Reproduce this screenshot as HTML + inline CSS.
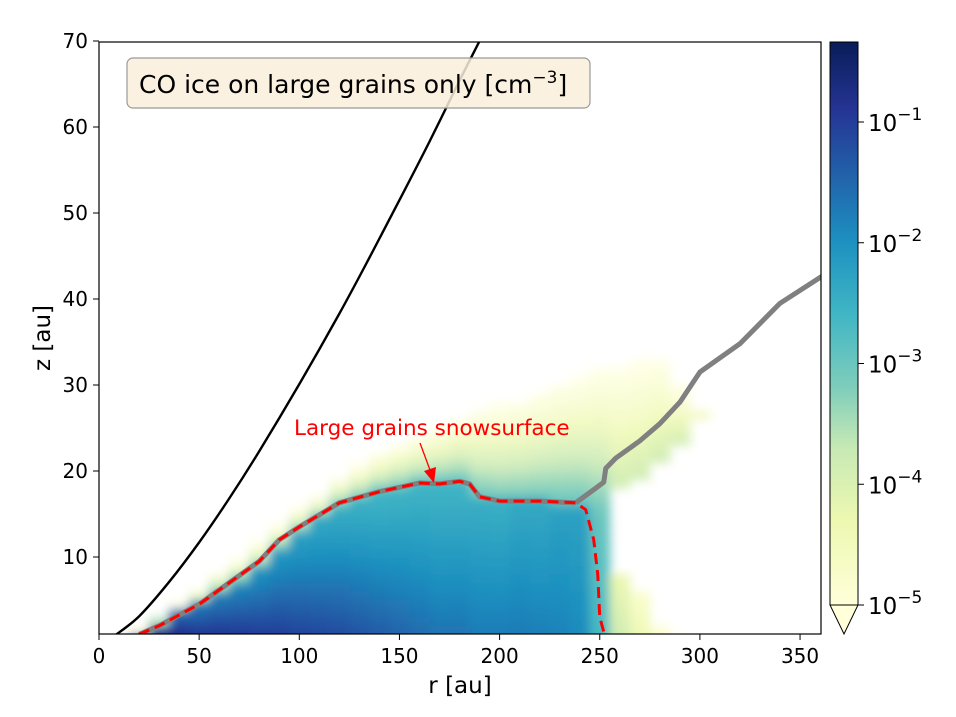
<!DOCTYPE html>
<html><head><meta charset="utf-8"><style>
body{margin:0;background:#fff}
svg text{font-family:"DejaVu Sans","Liberation Sans",sans-serif}
</style></head><body>
<svg id="chart" width="956" height="712" viewBox="0 0 956 712">
<defs>
<clipPath id="plotClip"><rect x="99" y="42" width="722" height="592"/></clipPath>
<filter id="blur" x="-5%" y="-5%" width="110%" height="110%"><feGaussianBlur stdDeviation="5"/></filter>
<linearGradient id="cbGrad" x1="0" y1="1" x2="0" y2="0">
<stop offset="0" stop-color="#ffffd9"/><stop offset="0.15" stop-color="#edf8b1"/><stop offset="0.279" stop-color="#c7e9b4"/>
<stop offset="0.386" stop-color="#7fcdbb"/><stop offset="0.515" stop-color="#41b6c4"/><stop offset="0.644" stop-color="#1d91c0"/>
<stop offset="0.773" stop-color="#225ea8"/><stop offset="0.88" stop-color="#253494"/><stop offset="1" stop-color="#081d58"/>
</linearGradient>
</defs>
<g id="heat" clip-path="url(#plotClip)"><g id="cells" filter="url(#blur)"></g></g>
<g id="lines" clip-path="url(#plotClip)"></g>
<rect x="99" y="42" width="722" height="592" fill="none" stroke="#000" stroke-width="1.2"/>
<g id="axes"></g>
<g>
<rect x="127" y="58" width="463" height="50" rx="6" fill="#faeedb" fill-opacity="0.85" stroke="#999" stroke-width="1.2"/>
<text x="139" y="93" font-size="25" fill="#000">CO ice on large grains only [cm<tspan dy="-10" font-size="17">−3</tspan><tspan dy="10">]</tspan></text>
</g>
<text x="294" y="435" font-size="21.5" fill="#ff0000">Large grains snowsurface</text>
<line x1="420" y1="443" x2="430" y2="470" stroke="#ff0000" stroke-width="1.3"/>
<polygon points="424,471 436,467 434,483" fill="#ff0000"/>
<text x="460" y="693" font-size="23" text-anchor="middle">r [au]</text>
<text transform="translate(50,338) rotate(-90)" font-size="23" text-anchor="middle">z [au]</text>
<g>
<rect x="830" y="42" width="28" height="563" fill="url(#cbGrad)"/>
<polygon points="830,605 858,605 844,634" fill="#ffffd9" stroke="#000" stroke-width="1"/>
<polyline points="830,605 830,42 858,42 858,605" fill="none" stroke="#000" stroke-width="1"/>
</g>
<g id="cbticks"></g>
</svg>
<script>
const NS="http://www.w3.org/2000/svg";
// ---- data ----
const rCols=[10,20,30,40,50,60,70,80,90,100,110,120,130,140,150,160,170,180,190,200,210,220,230,240,250,260,270,280,290,300];
const zSnowCol=[0,1,2.3,3.5,4.6,6,7.3,8.8,11,13,14.5,16,16.8,17.5,18,18.5,18.6,18.7,17,16.5,16.5,16.5,16.4,16.3,15,8,6,2,0,0];
const zFaintBotCol=[0,1,2.3,3.5,4.6,6,7.3,8.8,11,13,14.5,16,16.8,17.5,18,18.5,18.6,18.7,17,16.5,16.5,16.5,16.4,16.3,15,18,19,21,23,26];
const zTopCol=[0,1.3,3,4.5,6,8,9.5,11.5,13.5,15.5,17,19,20.5,22,23,24,25,26,27,27.5,28,29,30,30.5,31.5,32,32.5,33,30,27];
const logMidCol=[-0.4,-0.3,-0.3,-0.4,-0.6,-0.7,-0.8,-0.85,-0.9,-1.0,-1.05,-1.1,-1.2,-1.3,-1.4,-1.5,-1.6,-1.6,-1.7,-1.7,-1.7,-1.75,-1.8,-1.9,-2.6,-3.8,-4.3,-4.7,-5.2,-5.2];
const logSnowCol=[-1.2,-1.3,-1.4,-1.6,-1.8,-1.9,-2.0,-2.1,-2.2,-2.3,-2.4,-2.5,-2.55,-2.6,-2.6,-2.6,-2.6,-2.6,-2.5,-2.5,-2.4,-2.4,-2.3,-2.3,-3.0,-4.3,-4.8,-5.0,-5.2,-5.2];
const snowR=[20,30,50,65,80,90,100,120,140,160,170,180,185,190,200,220,238,243,247,249,250,252,258];
const snowZ=[1,2,4.5,7,9.5,12,13.5,16.3,17.6,18.6,18.5,18.8,18.5,17,16.5,16.5,16.3,15.5,12,8,3,1.3,0.5];
const grayR=[238,248,252,253,258,270,280,290,300,320,340,362];
const grayZ=[16.3,18,18.7,20.3,21.5,23.5,25.5,28,31.5,34.8,39.5,42.8];
const blackR=[7.5,20,35,50,65,80,100,120,135,150,165,180,190];
const blackZ=[0.8,3.1,7.1,11.7,16.8,22.3,30.1,38.3,44.8,51.5,58.3,65.4,70];
const xTicks=[0,50,100,150,200,250,300,350];
const yTicks=[10,20,30,40,50,60,70];
const cbTicks=[-5,-4,-3,-2,-1];
const cmapLog=[-5,-4.3,-3.7,-3.2,-2.6,-2.0,-1.4,-0.9,-0.34];
const cmapCol=["#ffffd9","#edf8b1","#c7e9b4","#7fcdbb","#41b6c4","#1d91c0","#225ea8","#253494","#081d58"];
// ---- scales ----
const X=r=>99+r*2.003;
const Y=z=>643-z*8.6;
const CB=l=>605-(l+5)*120.75;
function hex(c){return [1,3,5].map(i=>parseInt(c.substr(i,2),16));}
function cmap(l){
 if(l<=cmapLog[0])return cmapCol[0];
 for(let i=1;i<cmapLog.length;i++){if(l<=cmapLog[i]){const t=(l-cmapLog[i-1])/(cmapLog[i]-cmapLog[i-1]);const a=hex(cmapCol[i-1]),b=hex(cmapCol[i]);return "rgb("+a.map((v,k)=>Math.round(v+(b[k]-v)*t)).join(",")+")";}}
 return cmapCol[cmapCol.length-1];
}
// ---- heatmap cells ----
const cells=document.getElementById('cells');
const dz=1;
rCols.forEach((r,i)=>{
 const zs=zSnowCol[i],zf=zFaintBotCol[i],zt=zTopCol[i];
 for(let z=-3;z<zt;z+=dz){
  const zc=z+dz/2;let l,op=1;
  if(zc<=zs){const t=zs>0?Math.max(0,zc)/zs:1;l=logMidCol[i]+(logSnowCol[i]-logMidCol[i])*t;}
  else if(zc<zf){continue;}
  else{const t=(zc-zf)/Math.max(0.5,zt-zf);const ls=i>=25?-3.8:-3.0;l=ls+(-5-ls)*t;op=1-0.4*t;}
  if(l<-5.05)continue;
  const c=document.createElementNS(NS,'rect');
  
  
  c.setAttribute('x',X(r-5));c.setAttribute('width',X(r+5)-X(r-5)+0.5);
  c.setAttribute('y',Y(z+dz));c.setAttribute('height',Y(z)-Y(z+dz)+0.5);
  c.setAttribute('fill',cmap(l));c.setAttribute('fill-opacity',op);
  cells.appendChild(c);
 }
});
// ---- lines ----
const lines=document.getElementById('lines');
function pl(rs,zs,stroke,w,dash,name){
 const p=document.createElementNS(NS,'polyline');
 
 
 p.setAttribute('points',rs.map((r,i)=>X(r)+","+Y(zs[i])).join(" "));
 p.setAttribute('fill','none');p.setAttribute('stroke',stroke);p.setAttribute('stroke-width',w);
 p.setAttribute('stroke-linejoin','round');
 if(dash)p.setAttribute('stroke-dasharray',dash);
 lines.appendChild(p);
}
function smooth(rs,zs,stroke,w,name){
 const P=rs.map((r,i)=>[X(r),Y(zs[i])]);
 let d="M"+P[0][0]+","+P[0][1];
 for(let i=0;i<P.length-1;i++){
  const p0=P[Math.max(0,i-1)],p1=P[i],p2=P[i+1],p3=P[Math.min(P.length-1,i+2)];
  const c1=[p1[0]+(p2[0]-p0[0])/6,p1[1]+(p2[1]-p0[1])/6],c2=[p2[0]-(p3[0]-p1[0])/6,p2[1]-(p3[1]-p1[1])/6];
  d+=" C"+c1.join(",")+" "+c2.join(",")+" "+p2.join(",");
 }
 const p=document.createElementNS(NS,'path');
 
 
 p.setAttribute('d',d);p.setAttribute('fill','none');p.setAttribute('stroke',stroke);p.setAttribute('stroke-width',w);
 lines.appendChild(p);
}
pl(snowR.slice(0,17),snowZ.slice(0,17),"#808080",5,null,"gray-snowline-under");
pl(grayR,grayZ,"#808080",5,null,"gray-snowline");
pl(snowR,snowZ,"#ff0000",3,"11,6","red-snowsurface-line");
smooth(blackR,blackZ,"#000",2.4,"black-surface-line");
// ---- axes ----
const axes=document.getElementById('axes');
xTicks.forEach(v=>{
 const t=document.createElementNS(NS,'line');
 
 t.setAttribute('x1',X(v));t.setAttribute('x2',X(v));t.setAttribute('y1',634);t.setAttribute('y2',640);t.setAttribute('stroke','#000');
 axes.appendChild(t);
 const s=document.createElementNS(NS,'text');
 
 s.setAttribute('x',X(v));s.setAttribute('y',663);s.setAttribute('font-size','20');s.setAttribute('text-anchor','middle');
 s.textContent=v;axes.appendChild(s);
});
yTicks.forEach(v=>{
 const t=document.createElementNS(NS,'line');
 
 t.setAttribute('x1',93);t.setAttribute('x2',99);t.setAttribute('y1',Y(v));t.setAttribute('y2',Y(v));t.setAttribute('stroke','#000');
 axes.appendChild(t);
 const s=document.createElementNS(NS,'text');
 
 s.setAttribute('x',88);s.setAttribute('y',Y(v)+7);s.setAttribute('font-size','20');s.setAttribute('text-anchor','end');
 s.textContent=v;axes.appendChild(s);
});
const cbt=document.getElementById('cbticks');
cbTicks.forEach(v=>{
 const t=document.createElementNS(NS,'line');
 
 t.setAttribute('x1',858);t.setAttribute('x2',864);t.setAttribute('y1',CB(v));t.setAttribute('y2',CB(v));t.setAttribute('stroke','#000');
 cbt.appendChild(t);
 const s=document.createElementNS(NS,'text');
 
 s.setAttribute('x',868);s.setAttribute('y',CB(v)+9);s.setAttribute('font-size','23');
 s.innerHTML='10<tspan dy="-11" font-size="17">−'+(-v)+'</tspan>';
 cbt.appendChild(s);
});
</script>
</body></html>
